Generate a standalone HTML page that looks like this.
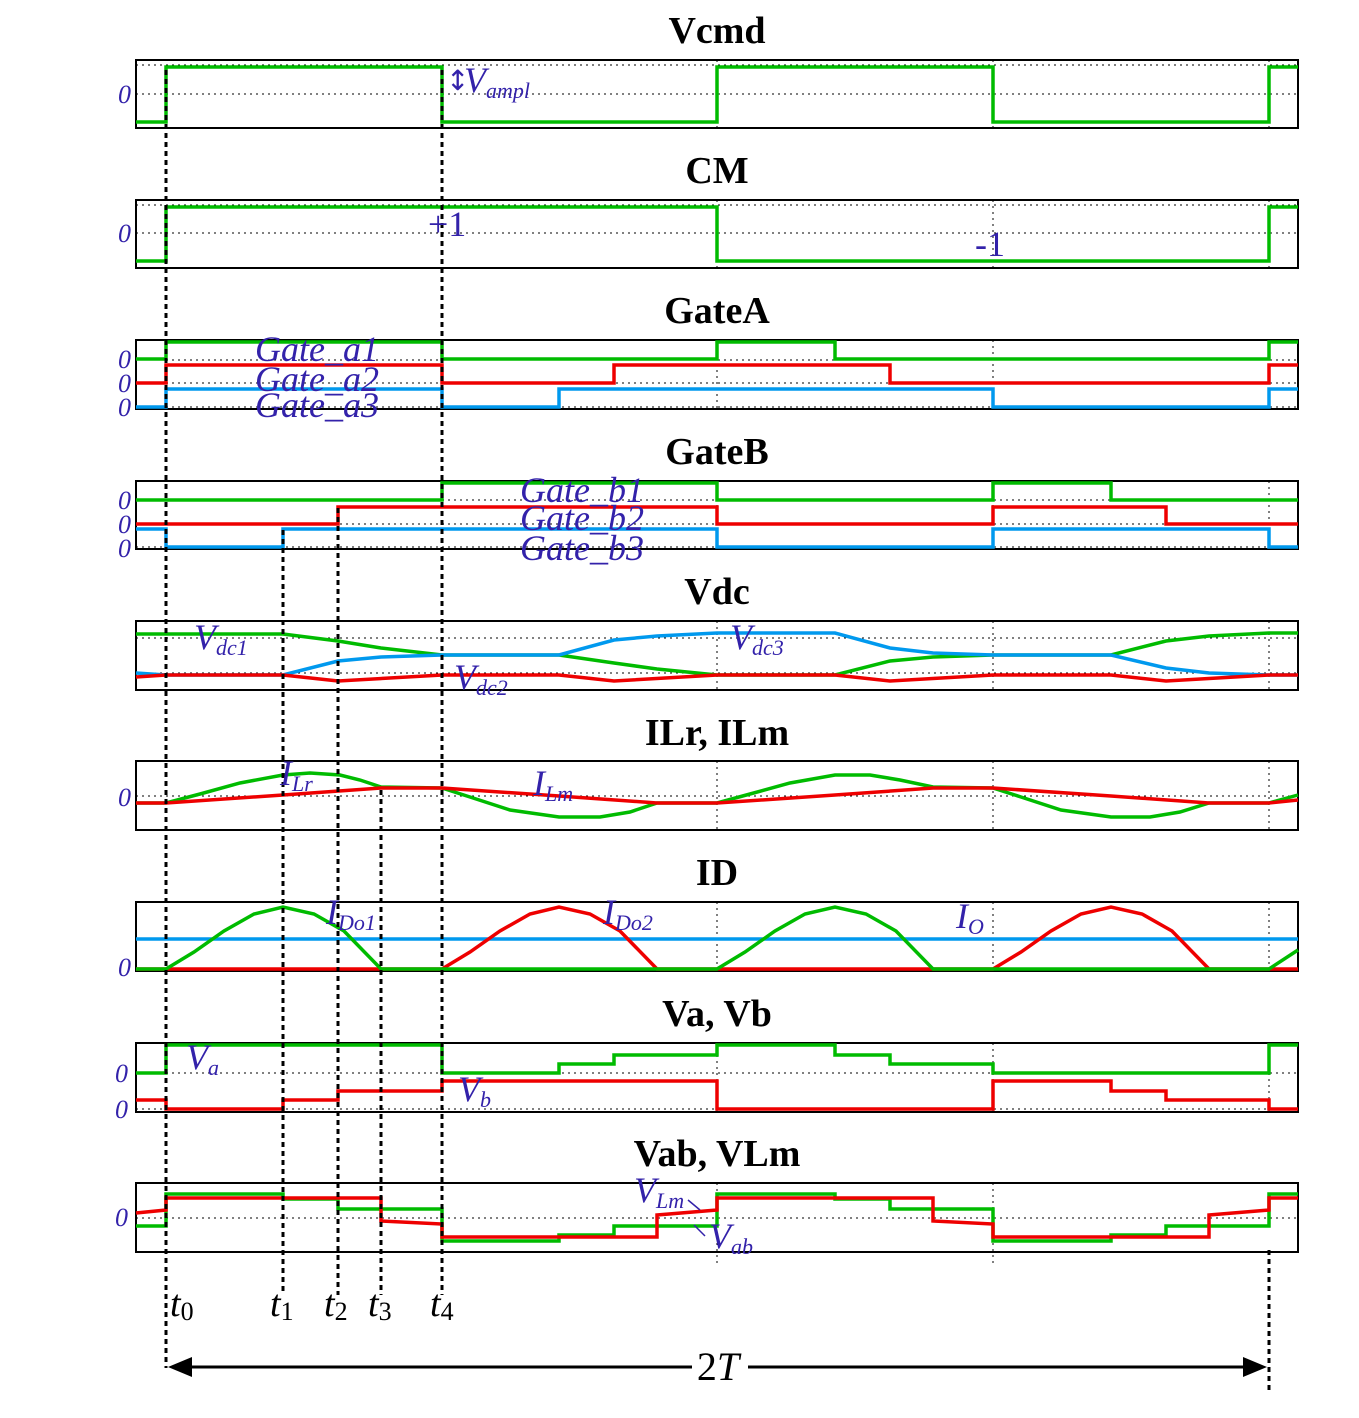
<!DOCTYPE html>
<html><head><meta charset="utf-8"><style>
html,body{margin:0;padding:0;background:#fff}
svg{display:block}
.t{font-family:"Liberation Serif",serif;font-weight:bold;font-size:38px;text-anchor:middle}
.l{font-family:"Liberation Serif",serif;font-style:italic;fill:#3322aa;font-size:36px}
.s{font-size:22px}
.z{font-family:"Liberation Serif",serif;font-style:italic;fill:#3322aa;font-size:26px;text-anchor:end}
.g{fill:none;stroke:#00bb00;stroke-width:3.5}
.r{fill:none;stroke:#ee0000;stroke-width:3.5}
.b{fill:none;stroke:#0099ee;stroke-width:3.5}
.box{fill:none;stroke:#000;stroke-width:2}
.d{stroke:#000;stroke-width:1;stroke-dasharray:2 4;fill:none}
.v{stroke:#000;stroke-width:3;stroke-dasharray:5 4;fill:none}
.tl{font-family:"Liberation Serif",serif;font-style:italic;font-size:38px;fill:#000}
</style></head><body>
<svg width="1359" height="1418" viewBox="0 0 1359 1418" xmlns="http://www.w3.org/2000/svg">
<text class="t" x="717" y="43">Vcmd</text>
<text class="t" x="717" y="183">CM</text>
<text class="t" x="717" y="323">GateA</text>
<text class="t" x="717" y="464">GateB</text>
<text class="t" x="717" y="604">Vdc</text>
<text class="t" x="717" y="745">ILr, ILm</text>
<text class="t" x="717" y="885">ID</text>
<text class="t" x="717" y="1026">Va, Vb</text>
<text class="t" x="717" y="1166">Vab, VLm</text>

<g class="d">
<path d="M136 65H1298M136 94H1298M136 205H1298M136 233H1298M136 360H1298M136 383H1298M136 407H1298M136 500H1298M136 524H1298M136 547H1298M136 638H1298M136 673H1298M136 796H1298M136 940H1298M136 969H1298M136 1073H1298M136 1109H1298M136 1218H1298"/>
<path d="M717 60V128M993 60V128M1269 60V128M717 200V268M993 200V268M1269 200V268M717 340V409M993 340V409M1269 340V409M717 481V549M993 481V549M1269 481V549M717 621V690M993 621V690M1269 621V690M717 761V830M993 761V830M1269 761V830M717 902V971M993 902V971M1269 902V971M717 1043V1112M993 1043V1112M1269 1043V1112M717 1183V1265M993 1183V1265"/>
</g>

<g class="box">
<rect x="136" y="60" width="1162" height="68"/>
<rect x="136" y="200" width="1162" height="68"/>
<rect x="136" y="340" width="1162" height="69"/>
<rect x="136" y="481" width="1162" height="68"/>
<rect x="136" y="621" width="1162" height="69"/>
<rect x="136" y="761" width="1162" height="69"/>
<rect x="136" y="902" width="1162" height="69"/>
<rect x="136" y="1043" width="1162" height="69"/>
<rect x="136" y="1183" width="1162" height="69"/>
</g>

<path class="g" d="M136 122H166V67H442V122H717V67H993V122H1269V67H1298"/>
<path class="g" d="M136 261H166V207H717V261H1269V207H1298"/>
<path class="g" d="M136 359H166V342H442V359H717V342H835V359H1269V342H1298"/>
<path class="r" d="M136 383H166V365H442V383H614V365H890V383H1269V365H1298"/>
<path class="b" d="M136 407H166V389H442V407H559V389H993V407H1269V389H1298"/>
<path class="g" d="M136 500H442V483H717V500H993V483H1111V500H1298"/>
<path class="r" d="M136 524H338V507H717V524H993V507H1166V524H1298"/>
<path class="b" d="M136 529H166V547H283V529H717V547H993V529H1269V547H1298"/>
<path class="g" d="M136 634L283 634L338 641L381 648L442 655L559 655L614 663L657 669L717 675L835 675L890 661L933 657L993 655L1111 655L1166 641L1209 636L1269 633L1298 633"/>
<path class="b" d="M136 673L166 675L283 675L338 661L381 657L442 655L559 655L614 640L657 636L717 633L835 633L890 648L933 653L993 655L1111 655L1166 668L1209 673L1269 675L1298 675"/>
<path class="r" d="M136 677L166 675L283 675L338 681L442 675L559 675L614 681L717 675L835 675L890 681L993 675L1111 675L1166 681L1269 675L1298 675"/>
<path class="g" d="M136 803L166 803L200 794L240 783L283 775L310 773L340 775L360 780L381 787L442 788L470 797L510 810L559 817L600 817L630 812L657 803L717 803L750 794L790 783L835 775L870 775L900 780L933 787L993 788L1021 797L1061 810L1111 817L1150 817L1180 812L1209 803L1269 803L1298 795"/>
<path class="r" d="M136 803L166 803L283 795L381 788L442 788L559 796L657 803L717 803L835 795L933 788L993 788L1111 796L1209 803L1269 803L1298 800"/>
<path class="b" d="M136 939H1298"/>
<path class="r" d="M136 969H442L470 952L500 931L530 914L559 907L590 914L620 931L657 969H993L1021 952L1051 931L1081 914L1111 907L1142 914L1172 931L1209 969H1298"/>
<path class="g" d="M136 969H166L194 952L224 931L254 914L283 907L314 914L344 931L381 969H717L745 952L775 931L805 914L835 907L866 914L896 931L933 969H1269L1298 950"/>
<path class="g" d="M136 1073H166V1045H442V1073H559V1064H614V1055H717V1045H835V1055H890V1064H993V1073H1269V1045H1298"/>
<path class="r" d="M136 1100H166V1109H283V1100H338V1091H442V1081H717V1109H993V1081H1111V1091H1166V1100H1269V1109H1298"/>
<path class="g" d="M136 1226H166V1194H283V1199H338V1209H442V1241H559V1235H614V1226H717V1194H835V1199H890V1209H993V1241H1111V1235H1166V1226H1269V1194H1298"/>
<path class="r" d="M136 1213L166 1210V1198H381V1221L442 1224V1237H657V1215L717 1210V1198H933V1221L993 1224V1237H1209V1215L1269 1210V1198H1298"/>

<g class="v">
<path d="M166 70V1368"/>
<path d="M442 70V1295"/>
<path d="M283 530V1295"/>
<path d="M338 508V1295"/>
<path d="M381 790V1295"/>
<path d="M1269 1250V1392"/>
</g>

<g class="z">
<text x="131" y="103">0</text>
<text x="131" y="242">0</text>
<text x="131" y="368">0</text>
<text x="131" y="392">0</text>
<text x="131" y="416">0</text>
<text x="131" y="509">0</text>
<text x="131" y="533">0</text>
<text x="131" y="557">0</text>
<text x="131" y="806">0</text>
<text x="131" y="976">0</text>
<text x="128" y="1082">0</text>
<text x="128" y="1118">0</text>
<text x="128" y="1226">0</text>
</g>

<text class="l" x="464" y="92" font-size="40">V<tspan class="s" dy="6">ampl</tspan></text>
<text x="446" y="90" font-size="28" font-family="DejaVu Sans" fill="#3322aa">↕</text>
<text class="l" x="428" y="236" style="font-style:normal">+1</text>
<text class="l" x="975" y="256" style="font-style:normal">-1</text>
<text class="l" x="255" y="361">Gate_a1</text>
<text class="l" x="255" y="391">Gate_a2</text>
<text class="l" x="255" y="417">Gate_a3</text>
<text class="l" x="520" y="502">Gate_b1</text>
<text class="l" x="520" y="530">Gate_b2</text>
<text class="l" x="520" y="560">Gate_b3</text>
<text class="l" x="194" y="649">V<tspan class="s" dy="6">dc1</tspan></text>
<text class="l" x="454" y="689">V<tspan class="s" dy="6">dc2</tspan></text>
<text class="l" x="730" y="649">V<tspan class="s" dy="6">dc3</tspan></text>
<text class="l" x="280" y="785">I<tspan class="s" dy="6">Lr</tspan></text>
<text class="l" x="533" y="795">I<tspan class="s" dy="6">Lm</tspan></text>
<text class="l" x="326" y="924">I<tspan class="s" dy="6">Do1</tspan></text>
<text class="l" x="603" y="924">I<tspan class="s" dy="6">Do2</tspan></text>
<text class="l" x="956" y="928">I<tspan class="s" dy="6">O</tspan></text>
<text class="l" x="186" y="1069">V<tspan class="s" dy="6">a</tspan></text>
<text class="l" x="458" y="1101">V<tspan class="s" dy="6">b</tspan></text>
<text class="l" x="634" y="1202">V<tspan class="s" dy="6">Lm</tspan></text>
<text class="l" x="709" y="1248">V<tspan class="s" dy="6">ab</tspan></text>
<path d="M688 1200L700 1210M694 1225L705 1236" stroke="#3322aa" stroke-width="1.5" fill="none"/>

<text class="tl" x="170" y="1316">t<tspan font-size="26" dy="4" font-style="normal">0</tspan></text>
<text class="tl" x="270" y="1316">t<tspan font-size="26" dy="4" font-style="normal">1</tspan></text>
<text class="tl" x="324" y="1316">t<tspan font-size="26" dy="4" font-style="normal">2</tspan></text>
<text class="tl" x="368" y="1316">t<tspan font-size="26" dy="4" font-style="normal">3</tspan></text>
<text class="tl" x="430" y="1316">t<tspan font-size="26" dy="4" font-style="normal">4</tspan></text>

<path d="M190 1367H692M748 1367H1245" stroke="#000" stroke-width="3"/>
<path d="M168 1367L192 1357V1377Z M1267 1367L1243 1357V1377Z" fill="#000"/>
<text x="718" y="1380" font-family="Liberation Serif,serif" font-size="40" text-anchor="middle">2<tspan font-style="italic">T</tspan></text>
</svg>
</body></html>
